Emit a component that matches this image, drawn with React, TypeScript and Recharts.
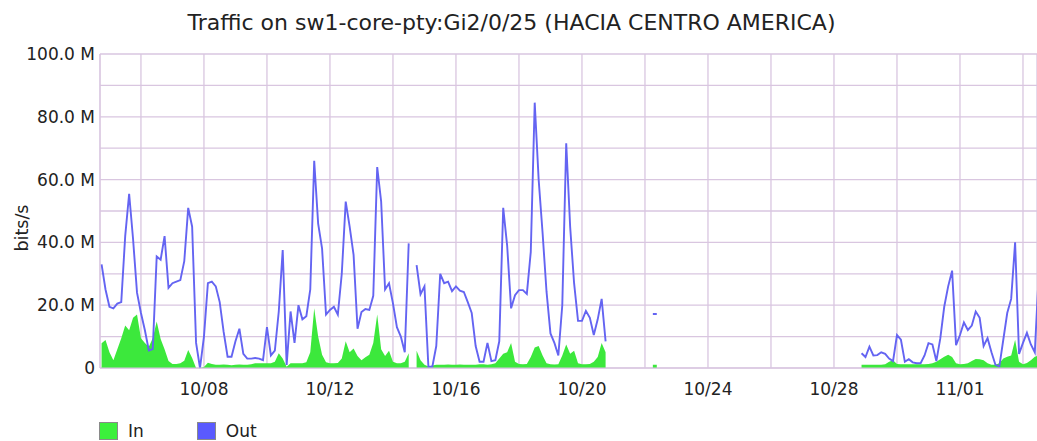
import React from 'react';
import {
  ComposedChart,
  Area,
  Line,
  XAxis,
  YAxis,
  CartesianGrid,
} from 'recharts';

// samples every 3 hours, day numbers counted from 10/01 00:00 = day 0
const START_DAY = 3.75;
const STEP_DAYS = 1 / 8;
const SAMPLE_COUNT = 239;

// first block of samples (10/04 18:00 - 10/20 18:00), Mbit/s
const SEG1_START = 0;
const outSeg1: (number | null)[] = [
  33, 25, 19.5, 19, 20.5, 21, 42, 55.5, 41, 24, 17.5, 12, 5.6, 6, 35.5, 34.5,
  42, 25.5, 27, 27.5, 28, 34, 51, 45, 8, 0, 10, 27, 27.5, 26, 21, 11.5,
  3.6, 3.6, 8.5, 12.5, 4.5, 3, 3, 3.2, 3, 2.5, 13, 4, 5.5, 18, 37.6, 1,
  18, 8, 20, 15.5, 16.5, 25, 66, 46, 38, 17, 18.5, 19.5, 17, 30, 53, 45,
  36, 12.5, 17.8, 18.8, 18.5, 23, 64, 53, 25, 27, 20.6, 13, 10, 5, 39.7, null,
  32.8, 23.5, 26, 0.4, 0.4, 7, 30, 27, 27.5, 24.5, 26, 24.6, 24.2, 21, 17.5, 7,
  2, 2, 8, 2.2, 2.5, 8.5, 51, 39, 19, 23.2, 24.8, 24.8, 23.6, 37, 84.5, 60,
  43, 24.3, 11, 8, 4, 20, 71.6, 45, 27, 15, 15, 18.2, 16, 10.5, 15.5, 22,
  8.5,
];
const inSeg1: (number | null)[] = [
  7.9, 8.9, 5, 2.5, 6, 9.5, 13.5, 12, 16, 17, 9.5, 8, 6.8, 9.5, 14.8, 9.2,
  6, 2.2, 1.3, 1.3, 1.5, 2.3, 5.7, 3.2, 0, 0, 0.3, 1.7, 1.3, 1, 1, 1.1,
  1, 0.9, 1, 1.1, 1, 1, 1.2, 1.5, 1.5, 1.5, 1.5, 1.5, 2, 4.7, 3, 0.4,
  1.5, 1.5, 1.5, 1.5, 1.8, 5, 19, 10, 4.2, 1.8, 1.5, 1.5, 1.6, 3, 8.5, 5,
  6.2, 3.8, 2.5, 3.4, 4.2, 8, 17, 6, 3.8, 5.5, 2, 1.5, 1.5, 2, 4.7, null,
  5.5, 2.5, 1, 0.5, 0.8, 1, 1, 1, 1.1, 1, 1, 1.1, 1, 1, 1, 1,
  1.2, 1.2, 1, 1.2, 1.5, 3, 4.5, 5, 8, 2, 1.3, 1.2, 1.3, 3.5, 6.5, 7,
  4, 1.5, 1.2, 1.1, 1.2, 4, 7.5, 4.5, 5.5, 1.5, 1.2, 1.2, 1.3, 2, 3.5, 8,
  5,
];

// lone sample on 10/22
const BLIP_START = 140;
const outBlip = [17.2, 17.2];
const inBlip = [1, 1];

// second block (10/28 - 11/03)
const SEG2_START = 193;
const outSeg2 = [
  4.7, 3.5, 6.8, 4, 4.1, 5, 4.5, 3, 2.2, 10.5, 9, 2, 2.8, 1.8, 1.5, 1.5,
  4, 7.9, 7.5, 2.2, 9.4, 19.5, 26, 31, 7.3, 10.5, 14.5, 12.1, 13.5, 18, 16, 7,
  9.5, 5, 1, 0.5, 9, 17.5, 22, 40, 4.5, 8, 11.2, 7.5, 5, 30,
];
const inSeg2 = [
  1, 1, 1, 1, 1, 1, 1.2, 2, 2.5, 1.3, 1.2, 1.2, 1.2, 1.2, 1.2, 1.2,
  1.2, 1.3, 1.5, 2, 2.8, 3.6, 4.2, 3.5, 1.5, 1.2, 1.3, 1.5, 2.2, 2.9, 2.8, 2.5,
  1.5, 1, 1, 1.5, 3, 3.6, 4, 9, 2, 1.2, 1.6, 2.5, 3.6, 4,
];

// axes
const yTicks = [0, 10, 20, 30, 40, 50, 60, 70, 80, 90, 100];
const xGridDays = [5, 7, 9, 11, 13, 15, 17, 19, 21, 23, 25, 27, 29, 31, 33];
const labelDays = [7, 11, 15, 19, 23, 27, 31];
const dateLabels = ['10/08', '10/12', '10/16', '10/20', '10/24', '10/28', '11/01'];

const GRID = '#d9c6e0';
const FONT = '"DejaVu Sans", sans-serif';

function pick(k: number, start: number, arr: (number | null)[]) {
  const i = k - start;
  return i >= 0 && i < arr.length ? arr[i] : undefined;
}

const rows = Array.from({ length: SAMPLE_COUNT }, (_, k) => {
  const out =
    pick(k, SEG1_START, outSeg1) ?? pick(k, BLIP_START, outBlip) ?? pick(k, SEG2_START, outSeg2) ?? null;
  const inn =
    pick(k, SEG1_START, inSeg1) ?? pick(k, BLIP_START, inBlip) ?? pick(k, SEG2_START, inSeg2) ?? null;
  return { day: START_DAY + k * STEP_DAYS, in: inn, out };
});

const fmtY = (v: number) => (v === 0 ? '0' : v % 20 === 0 ? `${v.toFixed(1)} M` : '');
const fmtX = (d: number) => {
  const i = labelDays.indexOf(d);
  return i >= 0 ? dateLabels[i] : '';
};

export default function App() {
  return (
    <div
      style={{
        position: 'absolute',
        left: 0,
        top: 0,
        width: 1037,
        height: 441,
        background: '#fff',
        fontFamily: FONT,
        color: '#222',
        overflow: 'hidden',
      }}
    >
      <div
        style={{
          position: 'absolute',
          left: 0,
          top: 10,
          width: 1023,
          textAlign: 'center',
          fontSize: 22,
          lineHeight: '26px',
        }}
      >
        Traffic on sw1-core-pty:Gi2/0/25 (HACIA CENTRO AMERICA)
      </div>
      <div
        style={{
          position: 'absolute',
          left: 22,
          top: 228,
          fontSize: 17.5,
          whiteSpace: 'nowrap',
          transform: 'translate(-50%, -50%) rotate(-90deg)',
        }}
      >
        bits/s
      </div>

      <ComposedChart
        width={1037}
        height={441}
        data={rows}
        margin={{ top: 54, right: 0, bottom: 43, left: 0 }}
      >
        <CartesianGrid stroke={GRID} strokeWidth={1.3} />
        <XAxis
          dataKey="day"
          type="number"
          domain={[3.7, 33.445]}
          allowDataOverflow
          ticks={xGridDays}
          tickFormatter={fmtX}
          interval={0}
          height={30}
          tickLine={false}
          tickSize={8}
          tickMargin={7}
          axisLine={{ stroke: GRID }}
          tick={{ fontSize: 17, fill: '#222', fontFamily: FONT }}
        />
        <YAxis
          type="number"
          domain={[0, 100]}
          ticks={yTicks}
          tickFormatter={fmtY}
          interval={0}
          width={100}
          tickLine={false}
          tickSize={5}
          tickMargin={0}
          axisLine={{ stroke: GRID }}
          tick={{ fontSize: 17, fill: '#222', fontFamily: FONT }}
        />
        <Area
          type="linear"
          dataKey="in"
          stroke="none"
          fill="#3ce83c"
          fillOpacity={1}
          dot={false}
          activeDot={false}
          isAnimationActive={false}
        />
        <Line
          type="linear"
          dataKey="out"
          stroke="#6464f2"
          strokeWidth={1.9}
          dot={false}
          activeDot={false}
          isAnimationActive={false}
        />
      </ComposedChart>

      {/* legend */}
      <div style={{ position: 'absolute', left: 99, top: 421, display: 'flex', alignItems: 'center', fontSize: 17 }}>
        <span style={{ width: 17, height: 16, background: '#3cf03c', border: '1px solid #8a8a8a', display: 'inline-block' }} />
        <span style={{ marginLeft: 10 }}>In</span>
        <span
          style={{
            width: 17,
            height: 16,
            background: '#5a5aff',
            border: '1px solid #8a8a8a',
            display: 'inline-block',
            marginLeft: 53,
          }}
        />
        <span style={{ marginLeft: 10 }}>Out</span>
      </div>
    </div>
  );
}
